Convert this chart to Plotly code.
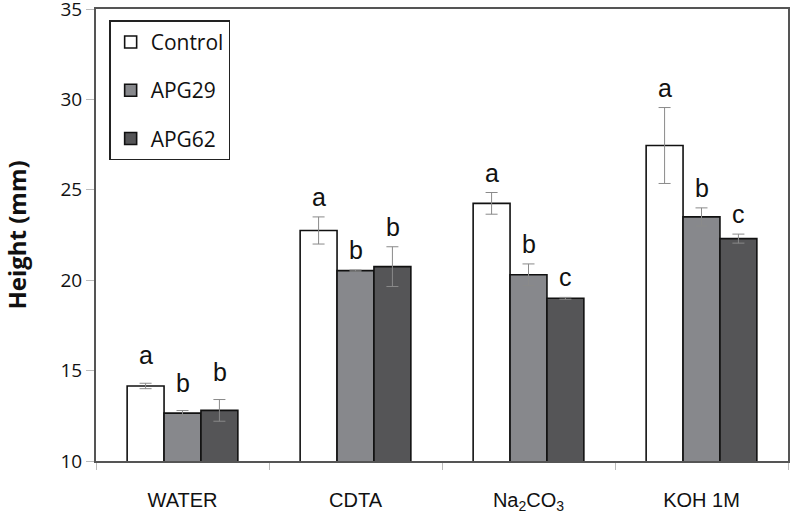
import plotly.graph_objects as go

categories = ["WATER", "CDTA", "Na<sub>2</sub>CO<sub>3</sub>", "KOH 1M"]
series_names = ["Control", "APG29", "APG62"]
control = [14.15, 22.75, 24.25, 27.45]
apg29 = [12.65, 20.53, 20.3, 23.5]
apg62 = [12.8, 20.75, 19.0, 22.3]
control_err = [0.15, 0.75, 0.6, 2.1]
apg29_err = [0.14, 0.03, 0.6, 0.5]
apg62_err = [0.6, 1.1, 0.05, 0.25]
control_letters = ["a", "a", "a", "a"]
apg29_letters = ["b", "b", "b", "b"]
apg62_letters = ["b", "b", "c", "c"]
y_ticks = [10, 15, 20, 25, 30, 35]

values = [control, apg29, apg62]
errors = [control_err, apg29_err, apg62_err]
letters = [control_letters, apg29_letters, apg62_letters]
colors = ["#ffffff", "#87888c", "#555557"]

fig = go.Figure()
for i, name in enumerate(series_names):
    fig.add_trace(go.Bar(
        x=categories, y=values[i], name=name, legendgroup=name,
        marker=dict(color=colors[i], line=dict(color="#111111", width=1.6)),
        error_y=dict(type="data", array=errors[i], visible=True,
                     color="#8a8a8a", thickness=1, width=6),
        offsetgroup=str(i),
    ))

# significance letters
n = len(series_names)
annotations = []
for i in range(n):
    for j, cat in enumerate(categories):
        top = values[i][j] + errors[i][j]
        extra = 8 if j == 0 else 0
        annotations.append(dict(
            x=j, xref="x", y=top, yref="y",
            xshift=(i - (n - 1) / 2) * 37,
            text=letters[i][j], showarrow=False,
            yanchor="bottom", yshift=4 + extra,
            font=dict(family="Liberation Sans, Arial", size=25, color="#111111"),
        ))

fig.update_layout(
    width=795, height=516,
    margin=dict(l=96, r=7, t=9, b=55),
    paper_bgcolor="white", plot_bgcolor="white",
    barmode="group", bargap=0.36, bargroupgap=0,
    annotations=annotations,
    showlegend=True,
    legend=dict(
        x=0.019, y=0.975, xanchor="left", yanchor="top",
        bgcolor="white", bordercolor="#222222", borderwidth=1.5,
        font=dict(family="Open Sans", size=21, color="#111111"),
        tracegroupgap=18, traceorder="grouped",
        itemwidth=30,
    ),
    xaxis=dict(
        automargin=False,
        showline=True, linecolor="#555555", linewidth=2, mirror=True,
        ticks="outside", tickson="boundaries", ticklen=7, tickcolor="#bbbbbb",
        tickfont=dict(family="Liberation Sans, Arial", size=20, color="#111111"),
        ticklabelstandoff=20,
    ),
    yaxis=dict(
        automargin=False, ticklabeloverflow="allow",
        range=[10, 35], tickvals=y_ticks,
        showline=True, linecolor="#555555", linewidth=2, mirror=True,
        showgrid=False, zeroline=False,
        ticks="outside", ticklen=8, tickcolor="#bbbbbb",
        tickfont=dict(family="Open Sans", size=19, color="#111111"),
        title=dict(text="<b>Height (mm)</b>", standoff=38,
                   font=dict(family="Open Sans", size=24, color="#111111")),
    ),
)

# remove the default page margin so the figure fills the window exactly
fig.write_html("out.html", config={"displayModeBar": False},
               post_script="document.body.style.margin='0px';")
